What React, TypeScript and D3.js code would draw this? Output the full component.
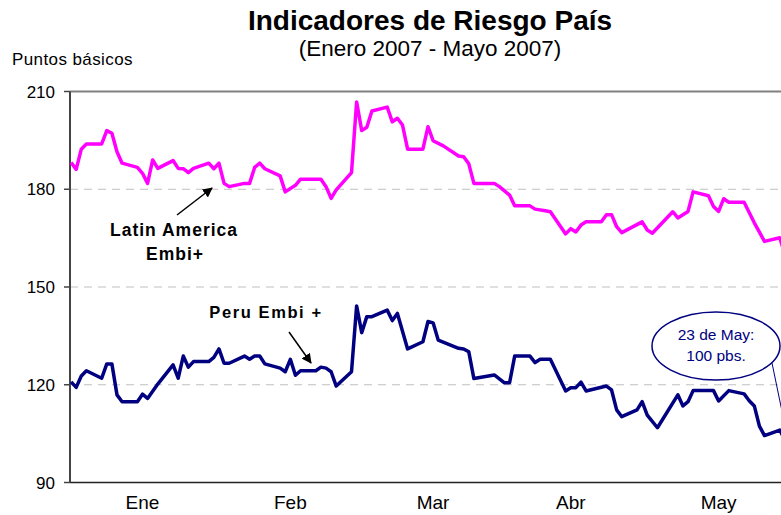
import React from 'react';
import * as d3 from 'd3';

// Latin America Embi+ (puntos básicos)
const latamDates = [
  '2007-01-02', '2007-01-03', '2007-01-04', '2007-01-05', '2007-01-08', '2007-01-09', '2007-01-10', '2007-01-11',
  '2007-01-12', '2007-01-15', '2007-01-16', '2007-01-17', '2007-01-18', '2007-01-19', '2007-01-22', '2007-01-23',
  '2007-01-24', '2007-01-25', '2007-01-26', '2007-01-29', '2007-01-30', '2007-01-31', '2007-02-01', '2007-02-02',
  '2007-02-05', '2007-02-06', '2007-02-07', '2007-02-08', '2007-02-09', '2007-02-12', '2007-02-13', '2007-02-15',
  '2007-02-16', '2007-02-20', '2007-02-21', '2007-02-22', '2007-02-23', '2007-02-26', '2007-02-27', '2007-02-28',
  '2007-03-01', '2007-03-02', '2007-03-05', '2007-03-06', '2007-03-07', '2007-03-08', '2007-03-09', '2007-03-12',
  '2007-03-13', '2007-03-14', '2007-03-16', '2007-03-19', '2007-03-20', '2007-03-21', '2007-03-22', '2007-03-26',
  '2007-03-27', '2007-03-29', '2007-03-30', '2007-04-02', '2007-04-03', '2007-04-05', '2007-04-06', '2007-04-09',
  '2007-04-10', '2007-04-11', '2007-04-12', '2007-04-13', '2007-04-16', '2007-04-17', '2007-04-18', '2007-04-19',
  '2007-04-20', '2007-04-24', '2007-04-25', '2007-04-26', '2007-04-30', '2007-05-01', '2007-05-03', '2007-05-04',
  '2007-05-07', '2007-05-08', '2007-05-09', '2007-05-10', '2007-05-11', '2007-05-14', '2007-05-16', '2007-05-18',
  '2007-05-21', '2007-05-22', '2007-05-23',
];
const latamValues = [
  188.2, 186.1, 192.3, 193.9, 193.9, 198.0, 197.2, 191.5,
  188.0, 186.7, 184.9, 181.8, 189.0, 186.4, 188.8, 186.4,
  186.3, 185.1, 186.4, 188.0, 186.3, 188.0, 181.8, 180.8,
  181.8, 181.8, 186.7, 188.0, 186.3, 184.1, 179.2, 181.2,
  183.1, 183.1, 180.8, 177.2, 179.8, 185.1, 206.8, 198.0,
  199.0, 204.0, 205.2, 200.7, 201.8, 199.7, 192.3, 192.3,
  199.2, 194.9, 193.3, 190.2, 190.0, 187.8, 181.8, 181.8,
  180.8, 178.2, 174.9, 174.9, 173.9, 173.4, 173.1, 166.3,
  167.9, 166.9, 169.0, 170.0, 170.0, 172.2, 172.2, 168.5,
  166.7, 170.0, 167.5, 166.5, 173.1, 171.2, 173.2, 179.2,
  178.0, 174.7, 173.2, 177.1, 176.0, 176.0, 169.7, 164.0,
  165.1, 160.0, 159.0,
];

// Peru Embi+ (puntos básicos)
const peruDates = [
  '2007-01-02', '2007-01-03', '2007-01-04', '2007-01-05', '2007-01-08', '2007-01-09', '2007-01-10', '2007-01-11',
  '2007-01-12', '2007-01-15', '2007-01-16', '2007-01-17', '2007-01-19', '2007-01-22', '2007-01-23', '2007-01-24',
  '2007-01-25', '2007-01-26', '2007-01-29', '2007-01-30', '2007-01-31', '2007-02-01', '2007-02-02', '2007-02-05',
  '2007-02-06', '2007-02-07', '2007-02-08', '2007-02-09', '2007-02-12', '2007-02-13', '2007-02-14', '2007-02-15',
  '2007-02-16', '2007-02-19', '2007-02-20', '2007-02-21', '2007-02-22', '2007-02-23', '2007-02-26', '2007-02-27',
  '2007-02-28', '2007-03-01', '2007-03-02', '2007-03-05', '2007-03-06', '2007-03-07', '2007-03-09', '2007-03-12',
  '2007-03-13', '2007-03-14', '2007-03-15', '2007-03-19', '2007-03-20', '2007-03-21', '2007-03-22', '2007-03-26',
  '2007-03-28', '2007-03-29', '2007-03-30', '2007-04-02', '2007-04-03', '2007-04-04', '2007-04-06', '2007-04-09',
  '2007-04-10', '2007-04-11', '2007-04-12', '2007-04-13', '2007-04-17', '2007-04-18', '2007-04-19', '2007-04-20',
  '2007-04-23', '2007-04-24', '2007-04-25', '2007-04-27', '2007-05-01', '2007-05-02', '2007-05-03', '2007-05-04',
  '2007-05-08', '2007-05-09', '2007-05-11', '2007-05-14', '2007-05-15', '2007-05-16', '2007-05-17', '2007-05-18',
  '2007-05-21', '2007-05-23',
];
const peruValues = [
  120.9, 119.2, 122.7, 124.3, 122.0, 126.4, 126.4, 116.9,
  114.8, 114.8, 117.1, 115.8, 120.2, 126.1, 122.0, 128.8,
  125.4, 127.1, 127.1, 128.4, 131.0, 126.6, 126.6, 128.8,
  127.8, 128.8, 128.8, 126.4, 125.1, 124.0, 127.8, 122.9,
  124.3, 124.3, 125.4, 125.1, 124.0, 119.6, 124.0, 144.2,
  136.0, 140.9, 140.9, 142.9, 139.7, 141.9, 131.0, 133.2,
  139.4, 139.0, 133.7, 131.2, 131.0, 130.1, 121.9, 123.0,
  120.6, 120.6, 128.8, 128.8, 126.8, 127.8, 127.8, 118.1,
  119.1, 119.1, 120.8, 118.1, 119.6, 118.4, 112.3, 110.2,
  112.3, 114.8, 110.7, 106.8, 116.9, 113.5, 114.8, 118.2,
  118.2, 115.0, 118.2, 117.2, 115.1, 113.5, 107.3, 104.4,
  106.1, 100.0,
];

const yTicks = [90, 120, 150, 180, 210];
const monthLabels = ['Ene', 'Feb', 'Mar', 'Abr', 'May'];
const monthLabelDates = ['2007-01-16', '2007-02-14', '2007-03-14', '2007-04-10', '2007-05-09'];

const W = 781;
const H = 515;
const FONT = '"Liberation Sans", Arial, sans-serif';
const parse = d3.timeParse('%Y-%m-%d');

export default function App() {
  const x = d3.scaleTime()
    .domain([new Date(2007, 0, 1), new Date(2007, 4, 23)])
    .range([66, 790]);
  const y = d3.scaleLinear().domain([90, 210]).range([482.5, 91.5]);
  const left = 70;

  const line = d3.line<[Date, number]>()
    .x(d => x(d[0]))
    .y(d => y(d[1]));

  const latam: [Date, number][] = latamDates.map((d, i) => [parse(d) as Date, latamValues[i]]);
  const peru: [Date, number][] = peruDates.map((d, i) => [parse(d) as Date, peruValues[i]]);

  const last = peru[peru.length - 1];

  return (
    <svg width={W} height={H} style={{ position: 'absolute', left: 0, top: 0, background: '#fff' }} fontFamily={FONT}>
      <defs>
        <marker id="arrow" viewBox="0 0 10 10" refX="9" refY="5" markerWidth="10" markerHeight="10"
          markerUnits="userSpaceOnUse" orient="auto">
          <path d="M0,0 L10,5 L0,10 z" fill="#000" />
        </marker>
      </defs>

      {/* title */}
      <text x={430} y={30} textAnchor="middle" fontSize={28} fontWeight="bold">Indicadores de Riesgo País</text>
      <text x={430} y={56} textAnchor="middle" fontSize={22.5}>(Enero 2007 - Mayo 2007)</text>
      <text x={12} y={65} fontSize={17} letterSpacing={0.4}>Puntos básicos</text>

      {/* grid */}
      {yTicks.filter(t => t !== 90 && t !== 210).map(t => (
        <line key={t} x1={left} x2={W} y1={y(t)} y2={y(t)} stroke="#c0c0c0" strokeWidth={1} strokeDasharray="8,6" />
      ))}
      <line x1={left} x2={W} y1={y(210)} y2={y(210)} stroke="#808080" strokeWidth={2} />
      <line x1={left} x2={W} y1={y(90)} y2={y(90)} stroke="#222" strokeWidth={1.5} />
      <line x1={left} x2={left} y1={y(210)} y2={y(90)} stroke="#444" strokeWidth={2} />
      {yTicks.map(t => (
        <g key={t}>
          <line x1={left - 6} x2={left} y1={y(t)} y2={y(t)} stroke="#444" strokeWidth={1.5} />
          <text x={55} y={y(t) + 6} textAnchor="end" fontSize={17}>{t}</text>
        </g>
      ))}
      {monthLabels.map((m, i) => (
        <text key={m} x={x(parse(monthLabelDates[i]) as Date)} y={509} textAnchor="middle" fontSize={19}>{m}</text>
      ))}

      {/* series */}
      <path d={line(latam) ?? ''} fill="none" stroke="#ff00ff" strokeWidth={3.5} strokeLinejoin="round" />
      <path d={line(peru) ?? ''} fill="none" stroke="#000080" strokeWidth={3.5} strokeLinejoin="round" />

      {/* annotations */}
      <line x1={177} y1={215} x2={212} y2={188} stroke="#000" strokeWidth={1.5} markerEnd="url(#arrow)" />
      <text x={174} y={236} textAnchor="middle" fontSize={17.5} fontWeight="bold" letterSpacing={1}>Latin America</text>
      <text x={175} y={260} textAnchor="middle" fontSize={17.5} fontWeight="bold" letterSpacing={1}>Embi+</text>

      <text x={266} y={318} textAnchor="middle" fontSize={16.5} fontWeight="bold" letterSpacing={1.6}>Peru  Embi +</text>
      <line x1={289} y1={332} x2={311} y2={363} stroke="#000" strokeWidth={1.5} markerEnd="url(#arrow)" />

      <line x1={772} y1={363} x2={x(last[0])} y2={y(last[1])} stroke="#000080" strokeWidth={1} />
      <ellipse cx={716} cy={346} rx={64} ry={34} fill="#fff" stroke="#000080" strokeWidth={1.5} />
      <text x={716} y={340} textAnchor="middle" fontSize={15.5} fill="#000080">23 de May:</text>
      <text x={716} y={361} textAnchor="middle" fontSize={15.5} fill="#000080">100 pbs.</text>
    </svg>
  );
}
